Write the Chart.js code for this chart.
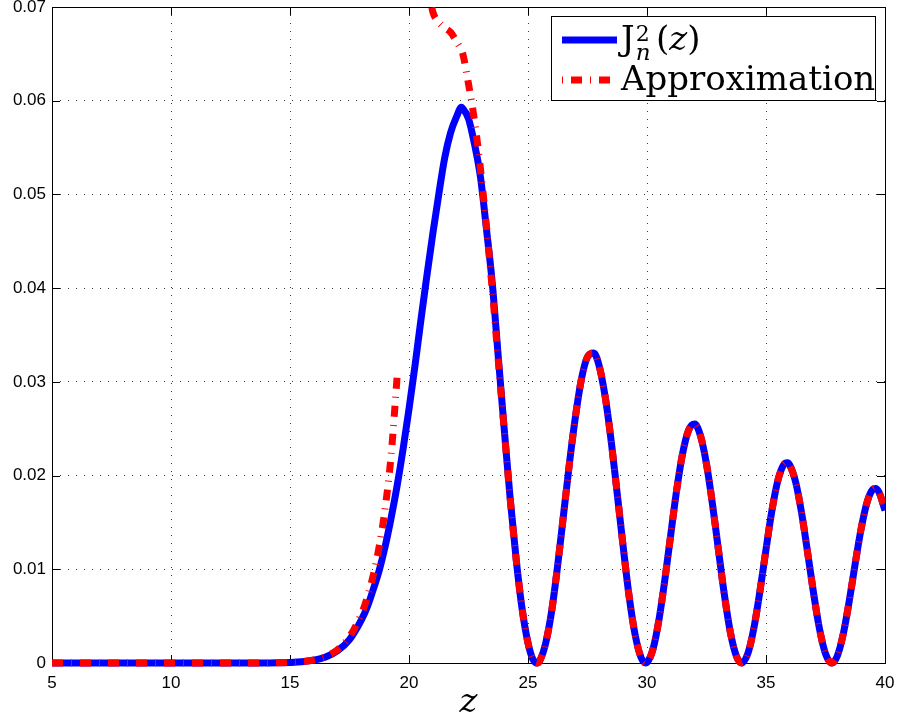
<!DOCTYPE html>
<html>
<head>
<meta charset="utf-8">
<script src="https://cdn.jsdelivr.net/npm/chart.js@4"></script>
<style>
  body { margin: 0; background: #fff; }
  canvas { display: block; }
</style>
</head>
<body>
<canvas id="myChart" width="898" height="719"></canvas>
<script>
// values
var zValues = [5, 6, 7, 8, 9, 10, 11, 12, 13, 14, 14.5, 15, 15.5, 16, 16.5, 17, 17.5, 18, 18.25, 18.5, 18.75,
  19, 19.25, 19.5, 19.75, 20, 20.25, 20.5, 20.75, 21, 21.25, 21.5, 21.75, 22, 22.2, 22.25, 22.5, 22.75,
  23, 23.25, 23.5, 23.75, 24, 24.25, 24.5, 24.75, 25, 25.2, 25.38, 25.5, 25.75, 26, 26.25, 26.5, 26.75,
  27, 27.25, 27.5, 27.76, 28, 28.25, 28.5, 28.75, 29, 29.25, 29.5, 29.75, 29.95, 30, 30.25, 30.5, 30.75,
  31, 31.25, 31.5, 31.75, 32, 32.25, 32.5, 32.75, 33, 33.25, 33.5, 33.75, 33.98, 34.25, 34.5, 34.75,
  35, 35.25, 35.5, 35.75, 35.9, 36, 36.25, 36.5, 36.75, 37, 37.25, 37.5, 37.77, 38, 38.25, 38.5, 38.75,
  39, 39.25, 39.5, 39.6, 39.75, 40];

var besselSq = [0, 0, 0, 0, 0, 0, 0, 0, 0.000001, 0.00001, 0.00002, 0.000055, 0.00013, 0.0003, 0.00064, 0.00132, 0.0025, 0.0046, 0.006, 0.00787, 0.0099,
  0.01246, 0.0155, 0.0189, 0.0228, 0.0271, 0.0317, 0.0366, 0.0413, 0.0458, 0.05, 0.0539, 0.0566, 0.0583, 0.0593, 0.0592, 0.0581, 0.0554,
  0.0519, 0.0464, 0.0405, 0.0327, 0.025, 0.01758, 0.01114, 0.00581, 0.00214, 0.00043, 0, 0.00028, 0.00219, 0.00564, 0.01049, 0.01598, 0.02149,
  0.0264, 0.03036, 0.03267, 0.03307, 0.03161, 0.0283, 0.02358, 0.01805, 0.01239, 0.00709, 0.00302, 0.00058, 0, 0.00005, 0.00146, 0.00458, 0.00889,
  0.01374, 0.01852, 0.02241, 0.02485, 0.02549, 0.02422, 0.02122, 0.01697, 0.0121, 0.0073, 0.00331, 0.00078, 0, 0.0011, 0.00385, 0.00775,
  0.01212, 0.01629, 0.01949, 0.02118, 0.02136, 0.02111, 0.01926, 0.01595, 0.01177, 0.00743, 0.00361, 0.00099, 0, 0.00077, 0.00314, 0.00665, 0.01064,
  0.01437, 0.01719, 0.01855, 0.01863, 0.01822, 0.01627];

var approxSq = [0, 0, 0, 0, 0, 0, 0, 0, 0.000001, 0.00001, 0.00002, 0.000057, 0.000135, 0.00032, 0.000695, 0.00143, 0.0028, 0.00523, 0.00703, 0.00939, 0.01246,
  0.01655, 0.0222, 0.0305, null, null, null, null, 0.0729, 0.0695, 0.0684, 0.0678, 0.0673, 0.0663, 0.0654, 0.0651, 0.0618, 0.0579,
  0.0528, 0.0467, 0.0398, 0.0323, 0.0249, 0.01758, 0.01114, 0.00581, 0.00214, 0.00043, 0, 0.00028, 0.00219, 0.00564, 0.01049, 0.01598, 0.02149,
  0.0264, 0.03036, 0.03267, 0.03307, 0.03161, 0.0283, 0.02358, 0.01805, 0.01239, 0.00709, 0.00302, 0.00058, 0, 0.00005, 0.00146, 0.00458, 0.00889,
  0.01374, 0.01852, 0.02241, 0.02485, 0.02549, 0.02422, 0.02122, 0.01697, 0.0121, 0.0073, 0.00331, 0.00078, 0, 0.0011, 0.00385, 0.00775,
  0.01212, 0.01629, 0.01949, 0.02118, 0.02136, 0.02111, 0.01926, 0.01595, 0.01177, 0.00743, 0.00361, 0.00099, 0, 0.00077, 0.00314, 0.00665, 0.01064,
  0.01437, 0.01719, 0.01855, 0.01863, 0.01822, 0.01627];

var xTicks = [5, 10, 15, 20, 25, 30, 35, 40];
var yTicks = [0, 0.01, 0.02, 0.03, 0.04, 0.05, 0.06, 0.07];
var yTickLabels = ['0', '0.01', '0.02', '0.03', '0.04', '0.05', '0.06', '0.07'];

var RED_DASH = [11, 8, 1, 8];

function toPoints(ys){
  return zValues.map(function(z, i){ return {x: z, y: ys[i]}; });
}

// box round the axes, inward ticks on all four sides
var frame = {
  id: 'frame',
  beforeDatasetsDraw: function(chart){
    var ctx = chart.ctx, a = chart.chartArea, sx = chart.scales.x, sy = chart.scales.y;
    ctx.save();
    ctx.strokeStyle = '#000';
    ctx.lineWidth = 1;
    ctx.beginPath();
    xTicks.forEach(function(v){
      var px = Math.round(sx.getPixelForValue(v)) + 0.5;
      ctx.moveTo(px, a.bottom); ctx.lineTo(px, a.bottom - 8);
      ctx.moveTo(px, a.top); ctx.lineTo(px, a.top + 8);
    });
    yTicks.forEach(function(v){
      var py = Math.round(sy.getPixelForValue(v)) + 0.5;
      ctx.moveTo(a.left, py); ctx.lineTo(a.left + 8, py);
      ctx.moveTo(a.right, py); ctx.lineTo(a.right - 8, py);
    });
    ctx.stroke();
    ctx.strokeRect(Math.round(a.left) + 0.5, Math.round(a.top) + 0.5,
      Math.round(a.right - a.left), Math.round(a.bottom - a.top));
    ctx.restore();
  },
  afterDraw: function(chart){
    var ctx = chart.ctx, a = chart.chartArea;
    ctx.save();
    // x axis title
    ctx.fillStyle = '#000';
    ctx.font = 'italic 34px "DejaVu Serif"';
    ctx.textAlign = 'center';
    ctx.textBaseline = 'alphabetic';
    ctx.fillText('z', (a.left + a.right) / 2, 712);

    // legend
    ctx.fillStyle = '#fff';
    ctx.fillRect(551, 16, 325, 84);
    ctx.strokeStyle = '#000';
    ctx.lineWidth = 1;
    ctx.strokeRect(551.5, 16.5, 324, 84);

    ctx.lineWidth = 7;
    ctx.lineCap = 'butt';
    ctx.strokeStyle = '#0000ff';
    ctx.beginPath(); ctx.moveTo(562, 40); ctx.lineTo(617, 40); ctx.stroke();
    ctx.strokeStyle = '#ff0000';
    ctx.setLineDash(RED_DASH);
    ctx.lineDashOffset = 19;
    ctx.beginPath(); ctx.moveTo(562, 80); ctx.lineTo(618, 80); ctx.stroke();
    ctx.setLineDash([]);

    ctx.fillStyle = '#000';
    ctx.textAlign = 'left';
    ctx.font = '34px "DejaVu Serif"';
    ctx.fillText('J', 621, 50);
    var jw = ctx.measureText('J').width;
    ctx.font = '22px "DejaVu Serif"';
    ctx.fillText('2', 621 + jw + 1, 41);
    ctx.font = 'italic 23px "DejaVu Serif"';
    ctx.fillText('n', 621 + jw + 1, 60);
    var px = 656;
    ctx.font = '34px "DejaVu Serif"';
    ctx.fillText('(', px, 50);
    px += ctx.measureText('(').width;
    ctx.font = 'italic 34px "DejaVu Serif"';
    ctx.fillText('z', px, 50);
    px += ctx.measureText('z').width;
    ctx.font = '34px "DejaVu Serif"';
    ctx.fillText(')', px, 50);

    ctx.fillText('Approximation', 621, 90);
    ctx.restore();
  }
};

var ctx = document.getElementById('myChart').getContext('2d');
var myChart = new Chart(ctx, {
  type: 'line',
  data: {
    datasets: [{
      label: 'Approximation',
      data: toPoints(approxSq),
      borderColor: '#ff0000',
      borderWidth: 7,
      borderDash: RED_DASH,
      borderCapStyle: 'butt',
      pointRadius: 0,
      cubicInterpolationMode: 'monotone',
      clip: {left: 5, top: 0, right: 0, bottom: 5},
      order: 0
    }, {
      label: 'J_n^2(z)',
      data: toPoints(besselSq),
      borderColor: '#0000ff',
      borderWidth: 7,
      pointRadius: 0,
      cubicInterpolationMode: 'monotone',
      clip: {left: 5, top: 0, right: 0, bottom: 5},
      order: 1
    }]
  },
  options: {
    responsive: false,
    animation: false,
    events: [],
    layout: { padding: { top: 7, right: 13, left: 0, bottom: 0 } },
    plugins: { legend: { display: false }, tooltip: { enabled: false } },
    scales: {
      x: {
        type: 'linear',
        min: 5,
        max: 40,
        afterBuildTicks: function(scale){ scale.ticks = xTicks.map(function(v){ return {value: v}; }); },
        afterFit: function(scale){
          scale.height = 56;
          scale.paddingLeft = 0; scale.paddingRight = 0;
        },
        ticks: {
          color: '#000',
          font: { family: '"Liberation Sans", Arial, sans-serif', size: 17 },
          padding: 10,
          maxRotation: 0,
          autoSkip: false,
          callback: function(v){ return String(v); }
        },
        grid: { color: '#3a3a3a', lineWidth: 1, drawTicks: false },
        border: { display: false, dash: [1, 7] }
      },
      y: {
        min: 0,
        max: 0.07,
        afterBuildTicks: function(scale){ scale.ticks = yTicks.map(function(v){ return {value: v}; }); },
        afterFit: function(scale){
          scale.width = 52;
          scale.paddingTop = 0; scale.paddingBottom = 0;
        },
        ticks: {
          color: '#000',
          font: { family: '"Liberation Sans", Arial, sans-serif', size: 17 },
          padding: 6,
          autoSkip: false,
          callback: function(v, i){ return yTickLabels[i]; }
        },
        grid: { color: '#3a3a3a', lineWidth: 1, drawTicks: false },
        border: { display: false, dash: [1, 7] }
      }
    }
  },
  plugins: [frame]
});
</script>
</body>
</html>
